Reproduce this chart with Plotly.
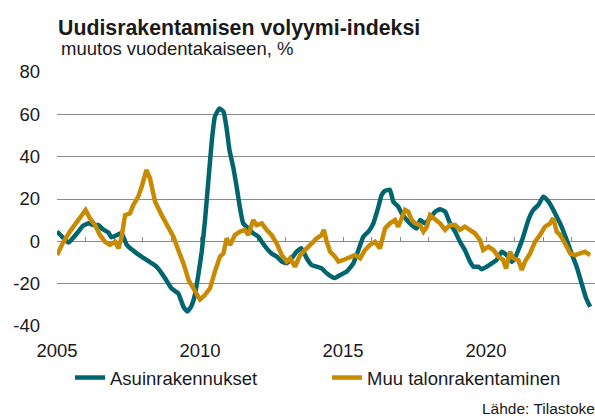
import plotly.graph_objects as go

# --- data (decimal years, % change y/y) ---
asuin_x = [2005.0, 2005.2, 2005.4, 2005.7, 2005.9, 2006.1, 2006.27, 2006.45, 2006.6, 2006.8, 2006.9,
           2007.1, 2007.26, 2007.44, 2007.79, 2008.13, 2008.48, 2008.78, 2009.0, 2009.24, 2009.42,
           2009.56, 2009.7, 2009.82, 2009.94, 2010.06, 2010.17, 2010.29, 2010.41, 2010.52, 2010.68,
           2010.82, 2010.93, 2011.03, 2011.17, 2011.28, 2011.4, 2011.51, 2011.69, 2011.86, 2012.04,
           2012.16, 2012.33, 2012.5, 2012.68, 2012.86, 2013.03, 2013.2, 2013.38, 2013.55, 2013.73,
           2013.9, 2014.08, 2014.25, 2014.43, 2014.6, 2014.72, 2014.9, 2015.13, 2015.36, 2015.54,
           2015.71, 2015.89, 2016.06, 2016.24, 2016.35, 2016.47, 2016.64, 2016.76, 2016.93, 2017.05,
           2017.23, 2017.4, 2017.58, 2017.7, 2017.87, 2018.04, 2018.22, 2018.39, 2018.57, 2018.74,
           2018.92, 2019.09, 2019.26, 2019.44, 2019.56, 2019.73, 2019.85, 2020.02, 2020.2, 2020.37,
           2020.55, 2020.72, 2020.9, 2021.01, 2021.13, 2021.3, 2021.48, 2021.65, 2021.83, 2022.0,
           2022.14, 2022.29, 2022.47, 2022.64, 2022.82, 2022.99, 2023.17, 2023.34, 2023.5, 2023.64]
asuin_y = [4.6, 1.9, -0.6, 3.8, 7.2, 8.5, 7.7, 7.7, 5.7, 4.1, 1.9,
           3.0, 3.8, -1.7, -5.7, -8.8, -12.0, -17.5, -22.2, -24.6, -30.9,
           -33.2, -30.5, -25.4, -15.9, -4.9, 9.3, 28.2, 47.1, 58.9, 62.8,
           61.3, 53.4, 43.1, 34.5, 25.8, 15.6, 8.5, 6.1, 3.8, 2.2,
           -0.2, -3.3, -5.7, -7.2, -9.6, -10.4, -8.0, -4.9, -3.3, -8.0,
           -11.2, -12.0, -12.8, -15.1, -16.7, -17.3, -15.9, -14.3, -10.4, -4.1,
           2.2, 4.6, 8.5, 16.4, 21.9, 23.9, 24.3, 18.7, 16.4, 13.2,
           10.1, 7.7, 6.1, 10.1, 8.5, 10.9, 14.0, 15.1, 14.0, 8.5,
           4.6, -0.2, -4.1, -9.6, -12.0, -12.0, -13.2, -12.0, -10.4, -8.8,
           -4.9, -6.5, -9.6, -8.0, -4.1, 2.2, 10.1, 14.8, 17.2, 21.1,
           19.5, 16.4, 11.7, 6.9, 0.6, -5.7, -12.0, -19.8, -26.9, -30.9]

muu_x = [2005.0, 2005.2, 2005.45, 2005.7, 2005.86, 2006.0, 2006.15, 2006.33, 2006.5, 2006.68, 2006.85,
         2007.03, 2007.15, 2007.26, 2007.38, 2007.55, 2007.67, 2007.84, 2007.96, 2008.13, 2008.25,
         2008.43, 2008.66, 2008.9, 2009.07, 2009.24, 2009.42, 2009.6, 2009.77, 2009.9, 2010.0,
         2010.17, 2010.35, 2010.52, 2010.7, 2010.82, 2010.93, 2011.05, 2011.22, 2011.4, 2011.57,
         2011.69, 2011.86, 2011.98, 2012.16, 2012.33, 2012.5, 2012.68, 2012.86, 2013.03, 2013.15,
         2013.32, 2013.5, 2013.73, 2013.9, 2014.08, 2014.25, 2014.33, 2014.43, 2014.55, 2014.72,
         2014.84, 2015.01, 2015.24, 2015.42, 2015.6, 2015.77, 2015.94, 2016.12, 2016.29, 2016.47,
         2016.64, 2016.82, 2016.93, 2017.05, 2017.17, 2017.28, 2017.4, 2017.52, 2017.69, 2017.81,
         2017.93, 2018.04, 2018.22, 2018.39, 2018.57, 2018.74, 2018.92, 2019.09, 2019.26, 2019.44,
         2019.61, 2019.79, 2019.9, 2020.08, 2020.26, 2020.43, 2020.6, 2020.7, 2020.84, 2020.95,
         2021.13, 2021.25, 2021.36, 2021.54, 2021.71, 2021.89, 2022.06, 2022.24, 2022.35, 2022.47,
         2022.59, 2022.76, 2022.94, 2023.11, 2023.29, 2023.46, 2023.64]
muu_y = [-6.5, -0.9, 4.6, 9.3, 11.7, 14.8, 10.9, 7.7, 3.0, -0.2, -1.7,
         -0.2, -3.3, 2.2, 12.4, 13.2, 17.2, 21.1, 25.8, 33.7, 29.8,
         18.7, 12.4, 6.9, 2.2, -4.1, -10.4, -18.3, -22.2, -26.0, -27.5,
         -25.4, -22.2, -14.3, -7.2, -5.7, 1.4, -1.7, 3.0, 4.6, 5.4,
         3.0, 10.1, 7.7, 8.5, 5.4, 3.0, -0.9, -6.5, -9.6, -8.0,
         -12.0, -6.5, -3.3, -0.9, 1.4, 3.0, 5.4, -0.2, -4.9, -7.2,
         -9.6, -8.8, -7.2, -6.5, -8.0, -4.1, -1.7, -0.2, -3.3, 6.1,
         8.5, 10.1, 6.9, 10.9, 14.8, 14.0, 10.1, 8.5, 7.7, 4.6,
         6.9, 12.4, 10.1, 8.5, 5.4, 7.7, 7.7, 5.4, 6.9, 5.4,
         3.8, 0.6, -4.1, -2.5, -4.1, -7.2, -8.8, -12.8, -4.9, -8.0,
         -8.8, -13.5, -9.6, -5.7, -0.2, 3.0, 6.9, 8.5, 10.9, 4.6,
         3.0, -0.9, -5.7, -6.5, -5.7, -4.9, -6.5]

series_names = ["Asuinrakennukset", "Muu talonrakentaminen"]
y_tickvals = [-40, -20, 0, 20, 40, 60, 80]
y_ticktext = ["-40", "-20", "0", "20", "40", "60", "80"]
x_label_years = [2005, 2010, 2015, 2020]
x_tick_years = list(range(2005, 2024))

title_text = "Uudisrakentamisen volyymi-indeksi"
subtitle_text = "muutos vuodentakaiseen, %"
source_text = "Lähde: Tilastokeskus"

TEAL = "#00656e"
GOLD = "#c88a00"
GRID = "#8a8a8a"
TXT = "#1a1a1a"
FONT = "Liberation Sans, Arial, sans-serif"
FS = 18.5

fig = go.Figure()
fig.add_trace(go.Scatter(x=asuin_x, y=asuin_y, mode="lines", name=series_names[0],
                         line=dict(color=TEAL, width=4.5, shape="spline", smoothing=0.4),
                         xaxis="x", yaxis="y"))
fig.add_trace(go.Scatter(x=muu_x, y=muu_y, mode="lines", name=series_names[1],
                         line=dict(color=GOLD, width=4.5),
                         xaxis="x2", yaxis="y"))

XR = [2005.0, 2023.81]
fig.update_layout(
    width=595, height=416,
    margin=dict(l=57, r=0, t=72, b=90, autoexpand=False),
    paper_bgcolor="white", plot_bgcolor="white",
    font=dict(family=FONT, size=FS, color=TXT),
    showlegend=True,
    legend=dict(orientation="h", xref="container", yref="container",
                x=70 / 595, y=1 - 378 / 416, xanchor="left", yanchor="middle",
                font=dict(size=FS, color=TXT), entrywidth=212, entrywidthmode="pixels",
                bgcolor="rgba(0,0,0,0)", itemwidth=30, tracegroupgap=0),
    xaxis=dict(range=XR, tickvals=x_label_years, ticks="", showgrid=False,
               showline=False, zeroline=False, tickfont=dict(size=FS, color=TXT),
               ticklabelstandoff=11, automargin=False),
    xaxis2=dict(range=XR, overlaying="x", anchor="free", position=1 / 3,
                tickvals=x_tick_years, ticks="inside", ticklen=4, tickcolor=GRID,
                tickwidth=1, showticklabels=False, showgrid=False, showline=False,
                zeroline=False, layer="below traces", automargin=False),
    yaxis=dict(range=[-40, 80], tickvals=y_tickvals, ticktext=y_ticktext,
               showgrid=True, gridcolor=GRID, gridwidth=1, zeroline=True,
               zerolinecolor=GRID, zerolinewidth=1, showline=False, ticks="",
               tickfont=dict(size=FS, color=TXT), ticklabelstandoff=16, automargin=False),
    annotations=[
        dict(text="<b>" + title_text + "</b>", xref="paper", yref="paper",
             x=-0.002, y=1 + (72 - 27.5) / 254, xanchor="left", yanchor="middle",
             showarrow=False, font=dict(size=21.3, color=TXT)),
        dict(text=subtitle_text, xref="paper", yref="paper",
             x=0.003, y=1 + (72 - 49) / 254, xanchor="left", yanchor="middle",
             showarrow=False, font=dict(size=FS, color=TXT)),
        dict(text=source_text, xref="paper", yref="paper",
             x=(480 - 57) / 538, y=(326 - 409) / 254, xanchor="left", yanchor="middle",
             showarrow=False, font=dict(size=15.5, color=TXT)),
    ],
)

fig.write_html("out.html", config={"displayModeBar": False},
               post_script="document.body.style.margin='0';document.body.style.overflow='hidden';")
